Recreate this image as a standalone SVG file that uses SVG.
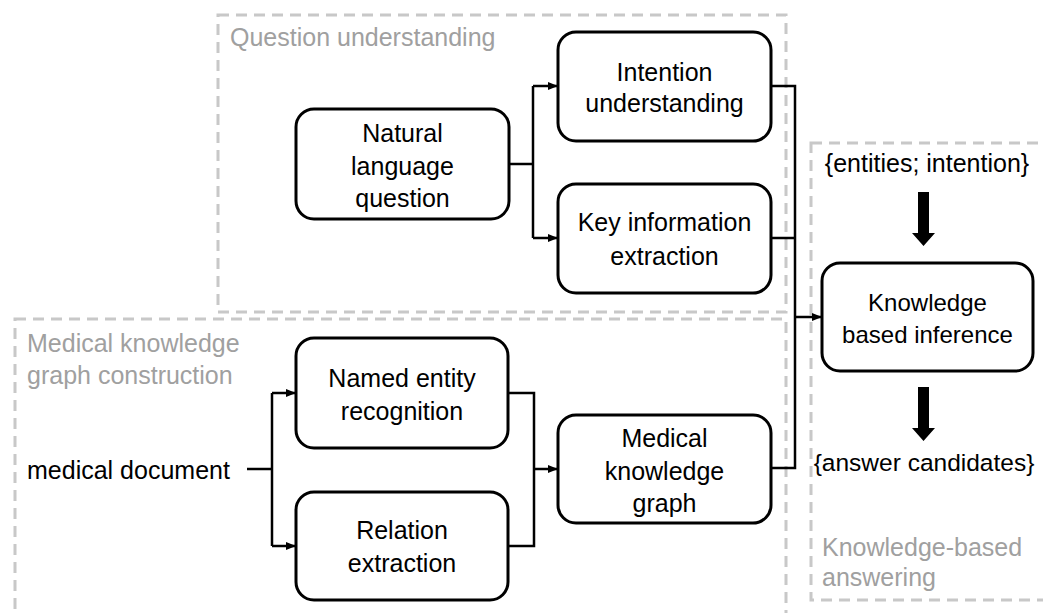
<svg xmlns="http://www.w3.org/2000/svg" width="1043" height="613" viewBox="0 0 1043 613">
<style>
.grp{fill:none;stroke:#c8c8c8;stroke-width:3;stroke-dasharray:11 7}
.lbl{font-family:"Liberation Sans",Arial,sans-serif;font-size:25px;fill:#a0a0a0}
.node rect{fill:#fff;stroke:#000;stroke-width:3}
.t{font-family:"Liberation Sans",Arial,sans-serif;font-size:25px;fill:#000;text-anchor:middle}
.ta{font-family:"Liberation Sans",Arial,sans-serif;font-size:25px;fill:#000}
.c{fill:none;stroke:#000;stroke-width:2.5}
</style>
<defs>
<marker id="ah" markerUnits="userSpaceOnUse" markerWidth="10" markerHeight="10" viewBox="0 0 10 10" refX="10" refY="5" orient="auto">
<path d="M0,1 L10,5 L0,9 Z" fill="#000"/>
</marker>
</defs>
<rect width="1043" height="613" fill="#fff"/>
<g id="groups">
<rect class="grp" x="218" y="15" width="568" height="297"/>
<rect class="grp" x="15" y="319" width="771" height="310"/>
<rect class="grp" x="811" y="143" width="250" height="457"/>
<text class="lbl" x="230" y="46">Question understanding</text>
<text class="lbl" x="27" y="352">Medical knowledge</text>
<text class="lbl" x="27" y="384">graph construction</text>
<text class="lbl" x="822" y="556">Knowledge-based</text>
<text class="lbl" x="822" y="586">answering</text>
</g>
<g id="connectors">
<path class="c" d="M509,164 H533"/>
<path class="c" d="M533,86 V238"/>
<path class="c" d="M533,86 H558" marker-end="url(#ah)"/>
<path class="c" d="M533,238 H558" marker-end="url(#ah)"/>
<path class="c" d="M771,86 H795 V468 H771"/>
<path class="c" d="M771,238 H795"/>
<path class="c" d="M795,317 H822" marker-end="url(#ah)"/>
<path class="c" d="M247,469 H272"/>
<path class="c" d="M272,393 V546"/>
<path class="c" d="M272,393 H296" marker-end="url(#ah)"/>
<path class="c" d="M272,546 H296" marker-end="url(#ah)"/>
<path class="c" d="M508,393 H534 V546 H508"/>
<path class="c" d="M534,469 H558" marker-end="url(#ah)"/>
<polygon points="918,192 929,192 929,233 935,233 923.5,246 912,233 918,233" fill="#000"/>
<polygon points="918,387 929,387 929,428 935,428 923.5,441 912,428 918,428" fill="#000"/>
</g>
<g id="natural" class="node">
<rect x="296" y="109" width="213" height="110" rx="18"/>
<text class="t" x="402.5" y="142">Natural</text>
<text class="t" x="402.5" y="175">language</text>
<text class="t" x="402.5" y="207">question</text>
</g>
<g id="intention" class="node">
<rect x="558" y="32" width="213" height="109" rx="18"/>
<text class="t" x="664.5" y="81">Intention</text>
<text class="t" x="664.5" y="112">understanding</text>
</g>
<g id="keyinfo" class="node">
<rect x="558" y="184" width="213" height="109" rx="18"/>
<text class="t" x="664.5" y="231">Key information</text>
<text class="t" x="664.5" y="265">extraction</text>
</g>
<g id="meddoc">
<text class="ta" x="27" y="479">medical document</text>
</g>
<g id="ner" class="node">
<rect x="296" y="338" width="212" height="110" rx="18"/>
<text class="t" x="402" y="387">Named entity</text>
<text class="t" x="402" y="420">recognition</text>
</g>
<g id="relation" class="node">
<rect x="296" y="492" width="212" height="108" rx="18"/>
<text class="t" x="402" y="539">Relation</text>
<text class="t" x="402" y="572">extraction</text>
</g>
<g id="mkg" class="node">
<rect x="558" y="415" width="213" height="108" rx="18"/>
<text class="t" x="664.5" y="447">Medical</text>
<text class="t" x="664.5" y="480">knowledge</text>
<text class="t" x="664.5" y="512">graph</text>
</g>
<g id="entities">
<text class="t" x="927" y="172">{entities; intention}</text>
</g>
<g id="kbi" class="node">
<rect x="822" y="263" width="211" height="108" rx="18"/>
<text class="t" x="927.5" y="311" style="font-size:24px">Knowledge</text>
<text class="t" x="927.5" y="343" style="font-size:24px">based inference</text>
</g>
<g id="answers">
<text class="t" x="924" y="471" style="font-size:24.5px">{answer candidates}</text>
</g>
</svg>
